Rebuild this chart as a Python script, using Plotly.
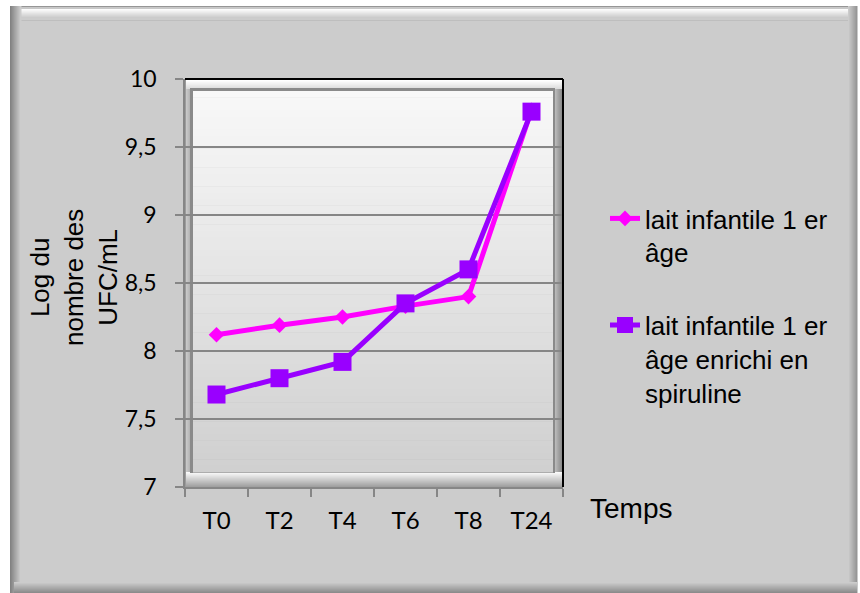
import plotly.graph_objects as go

categories = ["T0", "T2", "T4", "T6", "T8", "T24"]
lait_1er_age = [8.12, 8.19, 8.25, 8.33, 8.40, 9.77]
lait_spiruline = [7.68, 7.80, 7.92, 8.35, 8.60, 9.76]
y_ticks = [7, 7.5, 8, 8.5, 9, 9.5, 10]

W, H = 860, 593
PL, PR, PT, PB = 185, 563, 79, 487   # plot area in pixels


def fx(px):
    return (px - PL) / (PR - PL)


def fy(py):
    return (PB - py) / (PB - PT)


shapes = []


def rect(x0, y0, x1, y1, color, layer="below"):
    shapes.append(dict(type="rect", xref="paper", yref="paper",
                       x0=fx(x0), x1=fx(x1), y0=fy(y1), y1=fy(y0),
                       fillcolor=color, line=dict(width=0), layer=layer))


def line(x0, y0, x1, y1, color, width, layer="below"):
    shapes.append(dict(type="line", xref="paper", yref="paper",
                       x0=fx(x0), x1=fx(x1), y0=fy(y0), y1=fy(y1),
                       line=dict(color=color, width=width), layer=layer))


def vgrad(x0, y0, x1, y1, c0, c1, n):
    h = (y1 - y0) / n
    for i in range(n):
        t = i / max(n - 1, 1)
        c = tuple(int(round(c0[k] + (c1[k] - c0[k]) * t)) for k in range(3))
        rect(x0, y0 + i * h, x1, y0 + (i + 1) * h + 0.5, "rgb(%d,%d,%d)" % c)


def hgrad(x0, y0, x1, y1, c0, c1, n):
    w = (x1 - x0) / n
    for i in range(n):
        t = i / max(n - 1, 1)
        c = tuple(int(round(c0[k] + (c1[k] - c0[k]) * t)) for k in range(3))
        rect(x0 + i * w, y0, x0 + (i + 1) * w + 0.5, y1, "rgb(%d,%d,%d)" % c)


# outer chart box with bevel
rect(10, 6, 857, 593, "#cccccc")
vgrad(10, 6, 857, 20, (150, 150, 150), (204, 204, 204), 1)
vgrad(10, 7, 857, 20, (200, 200, 200), (204, 204, 204), 13)
vgrad(10, 9, 857, 16, (252, 252, 252), (215, 215, 215), 7)
hgrad(10, 6, 21, 593, (130, 130, 130), (204, 204, 204), 11)
hgrad(848, 6, 857, 593, (204, 204, 204), (150, 150, 150), 9)
vgrad(14, 582, 857, 593, (204, 204, 204), (140, 140, 140), 11)

# plot area frame (bevel)
rect(PL, PT, PR, PB, "#9c9c9c")
vgrad(186, 80, 562, 89, (255, 255, 255), (220, 220, 220), 9)
hgrad(186, 89, 191, 486, (200, 200, 200), (175, 175, 175), 5)
hgrad(553, 89, 562, 486, (200, 200, 200), (140, 140, 140), 9)
vgrad(186, 472, 562, 487, (250, 250, 250), (160, 160, 160), 15)
rect(190, 88, 555, 473, "#8a8a8a")
vgrad(193, 91, 553, 472, (248, 248, 248), (208, 208, 208), 60)
line(PL, PT, PR, PT, "#000000", 2, "above")
line(PR, PT, PR, PB, "#000000", 2, "above")

fig = go.Figure()
fig.add_trace(go.Scatter(
    x=categories, y=lait_1er_age, mode="lines+markers",
    name="lait infantile 1 er<br>âge", legendgroup="a",
    line=dict(color="#ff00ff", width=5),
    marker=dict(symbol="diamond", size=12, color="#ff00ff"),
))
fig.add_trace(go.Scatter(
    x=categories, y=lait_spiruline, mode="lines+markers",
    name="lait infantile 1 er<br>âge enrichi en<br>spiruline", legendgroup="b",
    line=dict(color="#9900ff", width=5),
    marker=dict(symbol="square", size=18, color="#9900ff"),
))

fig.update_layout(
    width=W, height=H,
    margin=dict(l=PL, r=W - PR, t=PT, b=H - PB, autoexpand=False),
    paper_bgcolor="#ffffff",
    plot_bgcolor="rgba(0,0,0,0)",
    separators=", ",
    shapes=shapes,
    font=dict(family="Liberation Sans, Arial", color="#000000"),
    showlegend=True,
    legend=dict(
        x=fx(605), xanchor="left", y=fy(195), yanchor="top",
        bgcolor="rgba(0,0,0,0)", font=dict(size=26, family="Liberation Sans, Arial"),
        traceorder="grouped", tracegroupgap=36, valign="top",
    ),
    annotations=[
        dict(text="Log du<br>nombre des<br>UFC/mL", textangle=-90,
             xref="paper", yref="paper", x=fx(74), y=fy(278),
             xanchor="center", yanchor="middle", showarrow=False,
             font=dict(size=26, family="Liberation Sans, Arial")),
        dict(text="Temps", xref="paper", yref="paper", x=fx(631), y=fy(508),
             xanchor="center", yanchor="middle", showarrow=False,
             font=dict(size=28, family="Liberation Sans, Arial")),
    ],
)

fig.update_xaxes(
    type="category", range=[-0.5, 5.5], showgrid=False,
    showline=True, linecolor="#868686", linewidth=1.5,
    ticks="outside", ticklen=8, tickcolor="#868686", tickwidth=1.5,
    tickson="boundaries", ticklabelstandoff=11,
    tickfont=dict(family="Lato", size=24, color="#000000"),
    fixedrange=True,
)
fig.update_yaxes(
    range=[7, 10], tickvals=y_ticks,
    showgrid=True, gridcolor="#868686", gridwidth=1.5,
    showline=True, linecolor="#868686", linewidth=1.5,
    ticks="outside", ticklen=8, tickcolor="#868686", tickwidth=1.5,
    ticklabelstandoff=14, zeroline=False,
    tickfont=dict(family="Lato", size=23, color="#000000"),
    fixedrange=True,
)

fig.write_html("out.html")
